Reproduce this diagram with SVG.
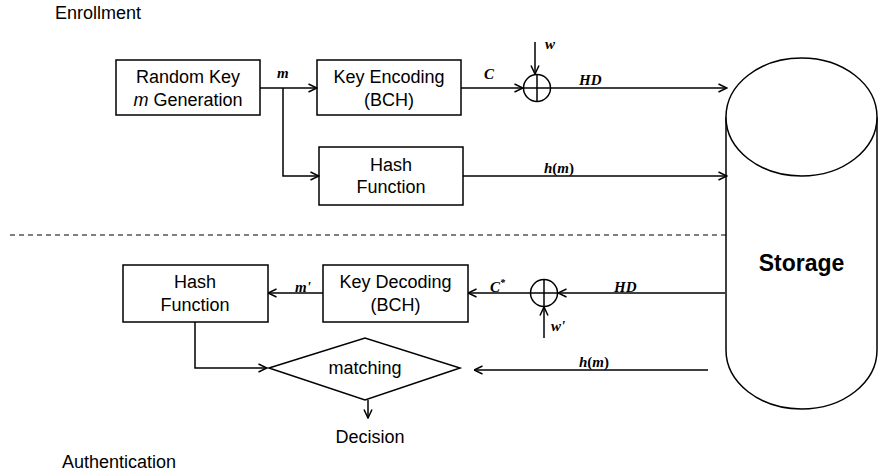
<svg xmlns="http://www.w3.org/2000/svg" width="879" height="473" viewBox="0 0 879 473">
  <defs>
    <marker id="arrow" viewBox="0 0 10 10" refX="9.5" refY="5" markerWidth="10" markerHeight="10" markerUnits="userSpaceOnUse" orient="auto">
      <path d="M1,1 L9.5,5 L1,9" fill="none" stroke="#000" stroke-width="1.5"/>
    </marker>
    <style>
      .box { fill: #fff; stroke: #000; stroke-width: 1.5; }
      .ln { fill: none; stroke: #000; stroke-width: 1.5; }
      .arr { fill: none; stroke: #000; stroke-width: 1.5; marker-end: url(#arrow); }
      .t { font-family: "Liberation Sans", Arial, sans-serif; font-size: 18px; fill: #000; text-anchor: middle; }
      .math { font-family: "Liberation Serif", "Times New Roman", serif; font-style: italic; font-weight: bold; font-size: 15px; fill: #000; }
      .hdr { font-family: "Liberation Sans", Arial, sans-serif; font-size: 18px; fill: #000; }
    </style>
  </defs>

  <rect width="879" height="473" fill="#fff"/>

  <text class="hdr" x="55" y="19">Enrollment</text>
  <text class="hdr" x="62" y="468">Authentication</text>

  <!-- phase separator -->
  <line x1="10" y1="235" x2="726" y2="235" stroke="#000" stroke-width="1.2" stroke-dasharray="5,4"/>

  <g id="random-key">
    <rect class="box" x="116" y="60" width="144" height="55"/>
    <text class="t" x="188" y="83">Random Key</text>
    <text class="t" x="188" y="106"><tspan font-style="italic">m</tspan> Generation</text>
  </g>

  <g id="key-encoding">
    <rect class="box" x="317" y="60" width="144" height="55"/>
    <text class="t" x="389" y="83">Key Encoding</text>
    <text class="t" x="389" y="106">(BCH)</text>
  </g>

  <g id="xor-enroll">
    <circle class="box" cx="537" cy="88" r="13.5"/>
    <line class="ln" x1="523.5" y1="88" x2="550.5" y2="88"/>
    <line class="ln" x1="537" y1="74.5" x2="537" y2="101.5"/>
  </g>

  <g id="hash-enroll">
    <rect class="box" x="319" y="147" width="144" height="58"/>
    <text class="t" x="391" y="171">Hash</text>
    <text class="t" x="391" y="193">Function</text>
  </g>

  <g id="storage">
    <path class="box" d="M726,117 L726,350 A75.5,59 0 0 0 877,350 L877,117"/>
    <ellipse class="box" cx="801.5" cy="117" rx="75.5" ry="59"/>
    <text x="801.5" y="271" font-family="Liberation Sans, Arial, sans-serif" font-size="23" font-weight="bold" text-anchor="middle">Storage</text>
  </g>

  <g id="hash-auth">
    <rect class="box" x="123" y="265" width="145" height="57"/>
    <text class="t" x="195" y="288">Hash</text>
    <text class="t" x="195" y="311">Function</text>
  </g>

  <g id="key-decoding">
    <rect class="box" x="323" y="265" width="145" height="57"/>
    <text class="t" x="395.5" y="288">Key Decoding</text>
    <text class="t" x="395.5" y="311">(BCH)</text>
  </g>

  <g id="xor-auth">
    <circle class="box" cx="544" cy="293" r="13.5"/>
    <line class="ln" x1="530.5" y1="293" x2="557.5" y2="293"/>
    <line class="ln" x1="544" y1="279.5" x2="544" y2="306.5"/>
  </g>

  <g id="matching">
    <polygon class="box" points="269,368 365,338 460,368 365,400"/>
    <text class="t" x="365" y="374" font-size="16">matching</text>
  </g>

  <g id="decision">
    <text class="t" x="370" y="443" font-size="19">Decision</text>
  </g>

  <g id="connectors">
    <!-- enrollment -->
    <line class="arr" x1="260" y1="88" x2="317" y2="88"/>
    <polyline class="arr" points="283,88 283,176 319,176"/>
    <line class="arr" x1="461" y1="88" x2="523" y2="88"/>
    <line class="arr" x1="535" y1="42" x2="535" y2="74"/>
    <line class="arr" x1="551" y1="88" x2="727" y2="88"/>
    <line class="arr" x1="463" y1="176" x2="727" y2="176"/>
    <!-- authentication -->
    <line class="arr" x1="725" y1="293" x2="558" y2="293"/>
    <line class="arr" x1="544" y1="338" x2="544" y2="307"/>
    <line class="arr" x1="530" y1="293" x2="468" y2="293"/>
    <line class="arr" x1="323" y1="293" x2="268" y2="293"/>
    <polyline class="arr" points="195,322 195,368 267,368"/>
    <line class="arr" x1="708" y1="370" x2="474" y2="370"/>
    <line class="arr" x1="368" y1="400" x2="368" y2="418"/>

    <!-- labels -->
    <text class="math" x="277" y="78">m</text>
    <text class="math" x="484" y="79">C</text>
    <text class="math" x="545" y="49">w</text>
    <text class="math" x="579" y="85">HD</text>
    <text class="math" x="544" y="173" font-size="16">h<tspan font-style="normal">(</tspan>m<tspan font-style="normal">)</tspan></text>
    <text class="math" x="295" y="292">m'</text>
    <text class="math" x="490" y="292">C<tspan font-size="10" dy="-6">*</tspan></text>
    <text class="math" x="614" y="292">HD</text>
    <text class="math" x="551" y="331">w'</text>
    <text class="math" x="579" y="367" font-size="16">h<tspan font-style="normal">(</tspan>m<tspan font-style="normal">)</tspan></text>
  </g>
</svg>
